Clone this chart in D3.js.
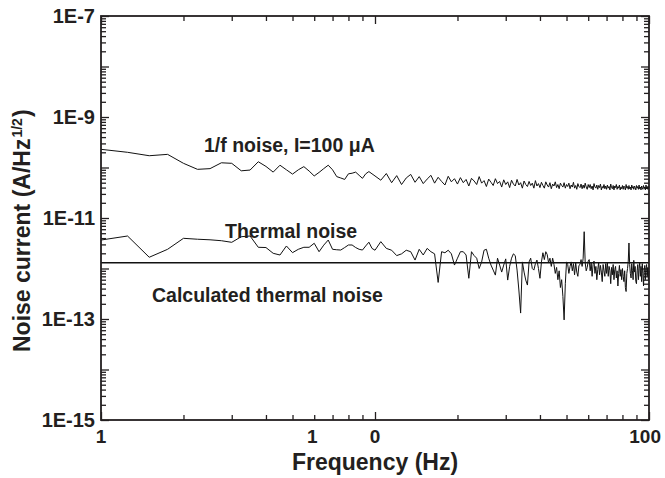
<!DOCTYPE html>
<html>
<head>
<meta charset="utf-8">
<script src="https://cdn.jsdelivr.net/npm/d3@7"></script>
<style>
  body { margin: 0; background: #fff; }
  text { font-family: "Liberation Sans", Arial, sans-serif; font-weight: bold; fill: #231f20; }
</style>
</head>
<body>
<svg id="svg1" width="665" height="478"></svg>
<script>
// frequency grid (Hz)
const freqLow = [1, 1.25, 1.5, 1.75, 2, 2.25, 2.5, 2.75, 3, 3.25, 3.5, 3.75, 4, 4.25, 4.5, 4.75,
  5, 5.25, 5.5, 5.75, 6, 6.25, 6.5, 6.75, 7, 7.25, 7.5, 7.75, 8, 8.25, 8.5, 8.75, 9, 9.25, 9.5, 9.75, 10];
const freqHigh = d3.range(10.5, 100.001, 0.5);

// 1/f noise, I=100 uA  (A/Hz^1/2)
const oneOverFLow = [2.29e-10, 2.0e-10, 1.71e-10, 1.82e-10, 1.21e-10, 9.2e-11, 9.5e-11, 1.24e-10, 1.21e-10,
  8.6e-11, 8.9e-11, 1.30e-10, 1.05e-10, 8.1e-11, 1.11e-10, 9.0e-11, 7.4e-11, 9.0e-11, 1.04e-10, 8.5e-11,
  6.8e-11, 8.0e-11, 9.5e-11, 1.11e-10, 9.0e-11, 6.6e-11, 6.2e-11, 5.8e-11, 7.5e-11, 7.7e-11, 8.1e-11,
  7.0e-11, 6.1e-11, 7.5e-11, 8.3e-11, 7.5e-11, 6.8e-11];
// 10.5 .. 100 Hz, in units of 1e-11
const oneOverFHigh = [
  5.6, 7.6, 5.0, 6.9, 4.6, 6.2, 7.3, 5.1, 6.6, 4.8, 5.9, 7.0, 4.9, 6.4, 5.3, 4.5, 6.7, 5.2, 6.0, 4.7,
  6.3, 5.0, 5.8, 4.3, 6.1, 5.4, 4.6, 6.6, 4.9, 5.5, 4.2, 5.9, 5.1, 4.4, 6.0, 4.8, 5.3, 4.1, 5.7, 4.6,
  5.2, 4.0, 5.6, 4.7, 4.3, 5.8, 4.5, 5.0, 3.9, 5.4, 4.6, 4.2, 5.3, 4.4, 4.9, 3.9, 5.5, 4.3, 4.8, 4.0,
  5.1, 4.4, 3.9, 5.2, 4.5, 4.1, 5.0, 3.8, 4.7, 4.3, 5.2, 4.0, 4.6, 3.8, 4.9, 4.4, 4.1, 5.0, 3.9, 4.6,
  4.2, 4.9, 3.8, 4.5, 4.1, 5.1, 3.9, 4.4, 3.7, 4.8, 4.2, 4.0, 4.7, 3.8, 4.5, 3.9, 4.9, 4.1, 3.7, 4.6,
  4.0, 4.6, 3.8, 4.3, 3.6, 4.8, 4.1, 3.9, 4.5, 3.7, 4.4, 4.0, 4.7, 3.6, 4.2, 3.9, 4.6, 3.8, 4.3, 3.7,
  4.5, 3.9, 4.2, 3.6, 4.7, 4.0, 3.8, 4.4, 3.6, 4.3, 4.0, 4.6, 3.7, 4.2, 3.9, 4.5, 3.6, 4.1, 3.8, 4.4,
  3.7, 4.3, 4.0, 3.6, 4.6, 3.9, 4.2, 3.7, 4.4, 3.8, 4.1, 3.6, 4.5, 3.9, 4.2, 3.7, 4.3, 4.0, 3.6, 4.4,
  3.9, 4.2, 3.7, 4.5, 3.8, 4.1, 3.6, 4.3, 4.0, 3.7, 4.4, 3.9, 4.1, 3.6, 4.5, 3.8, 4.2, 3.7, 4.3, 4.0
].map(v => v * 1e-11);

// measured thermal noise
const thermalLow = [3.66e-12, 4.40e-12, 1.67e-12, 2.40e-12, 3.96e-12, 3.8e-12, 3.7e-12, 3.55e-12, 3.30e-12,
  4.26e-12, 4.40e-12, 2.63e-12, 2.60e-12, 2.0e-12, 1.85e-12, 2.79e-12, 2.06e-12, 2.4e-12, 2.63e-12, 2.63e-12,
  3.16e-12, 2.15e-12, 2.9e-12, 3.66e-12, 2.40e-12, 2.35e-12, 2.32e-12, 2.6e-12, 2.92e-12, 2.92e-12, 2.6e-12,
  2.4e-12, 2.32e-12, 2.8e-12, 3.32e-12, 2.5e-12, 2.3e-12];
// 10.5 .. 100 Hz, in units of 1e-12
const thermalHigh = [
  3.4, 2.5, 2.3, 1.8, 1.95, 2.3, 2.15, 1.47, 2.4, 1.85, 2.5, 2.15, 1.95, 0.53, 2.15, 2.05, 2.3, 1.95, 1.17, 1.6,
  2.15, 2.15, 1.85, 0.64, 2.15, 1.8, 1.6, 1.0, 1.35, 2.3, 2.4, 1.6, 1.17, 0.93, 0.74, 1.6, 1.17, 0.85, 1.17, 1.55,
  0.59, 1.1, 1.6, 1.95, 1.8, 0.93, 0.375, 0.131, 1.35, 0.85, 0.59, 0.47, 1.35, 1.6, 1.0, 0.93, 1.25, 1.47, 1.0, 0.64,
  1.35, 2.05, 1.5, 2.15, 1.9, 1.3, 1.6, 1.1, 1.6, 1.2, 0.8, 1.05, 0.6, 0.9, 0.42, 0.6, 0.28, 0.096, 0.5, 1.35,
  1.2, 0.8, 1.1, 1.35, 0.9, 1.25, 0.75, 1.3, 0.85, 0.7, 1.15, 1.2, 1.5, 1.1, 1.6, 5.35, 1.3, 0.9, 1.05, 1.4,
  1.5, 0.9, 1.3, 0.7, 1.2, 1.4, 0.8, 1.1, 0.6, 0.95, 1.3, 0.75, 1.15, 0.85, 0.55, 1.2, 0.9, 0.7, 1.25, 0.8,
  1.3, 0.7, 1.1, 0.9, 0.5, 1.05, 0.75, 1.2, 0.6, 0.95, 1.1, 0.65, 0.9, 0.45, 0.8, 1.15, 0.7, 0.95, 0.6, 1.0,
  0.7, 0.55, 0.9, 0.42, 0.35, 0.8, 1.0, 1.4, 3.2, 1.2, 0.8, 0.65, 1.25, 0.9, 0.6, 1.45, 0.85, 1.1, 0.55, 0.5,
  0.9, 1.2, 0.6, 1.0, 1.3, 0.7, 1.1, 0.55, 1.25, 0.8, 0.45, 0.95, 1.15, 0.6, 1.0, 1.2, 0.7, 1.05, 0.6, 0.9
].map(v => v * 1e-12);

// calculated thermal noise level
const calcThermal = 1.3e-12;

const yTickValues = [1e-7, 1e-9, 1e-11, 1e-13, 1e-15];
const yTickLabels = ['1E-7', '1E-9', '1E-11', '1E-13', '1E-15'];
const xTickValues = [1, 5.9, 10, 100];
const xTickLabels = ['1', '1', '0', '100'];

const svg1 = d3.select('#svg1');
const margin = { top: 16, right: 16, bottom: 58, left: 101 };
const width = +svg1.attr('width');
const height = +svg1.attr('height');
const innerWidth = width - margin.left - margin.right;
const innerHeight = height - margin.top - margin.bottom;
const ink = '#231f20';

const xScale = d3.scaleLog().domain([1, 100]).range([0, innerWidth]);
const yScale = d3.scaleLog().domain([1e-15, 1e-7]).range([innerHeight, 0]);

const g = svg1.append('g')
  .attr('transform', `translate(${margin.left},${margin.top})`);

// tick marks on all four sides, pointing inward
const xMajor = [1, 10, 100];
const xMinor = xScale.ticks().filter(d => !xMajor.includes(d));
const yMajor = d3.range(-15, -6).map(e => Math.pow(10, e));
const yMinor = yScale.ticks().filter(d => !yMajor.some(m => Math.abs(m - d) / d < 1e-6));

const tickAxis = (axisFn, scale, values, size, transform) => {
  const a = g.append('g')
    .attr('transform', transform)
    .call(axisFn(scale).tickValues(values).tickSize(-size).tickSizeOuter(0).tickFormat(''));
  a.select('.domain').remove();
  a.selectAll('line').attr('stroke', ink).attr('stroke-width', 1.3);
};

tickAxis(d3.axisBottom, xScale, xMajor, 8, `translate(0,${innerHeight})`);
tickAxis(d3.axisBottom, xScale, xMinor, 5, `translate(0,${innerHeight})`);
tickAxis(d3.axisTop, xScale, xMajor, 8, 'translate(0,0)');
tickAxis(d3.axisTop, xScale, xMinor, 5, 'translate(0,0)');
tickAxis(d3.axisLeft, yScale, yMajor, 8, 'translate(0,0)');
tickAxis(d3.axisLeft, yScale, yMinor, 5, 'translate(0,0)');
tickAxis(d3.axisRight, yScale, yMajor, 8, `translate(${innerWidth},0)`);
tickAxis(d3.axisRight, yScale, yMinor, 5, `translate(${innerWidth},0)`);

// tick labels
g.selectAll('.ylab').data(yTickValues).enter().append('text')
  .attr('class', 'ylab')
  .attr('x', -6)
  .attr('y', d => yScale(d))
  .attr('dy', '0.36em')
  .attr('text-anchor', 'end')
  .attr('font-size', 20)
  .text((d, i) => yTickLabels[i]);

g.selectAll('.xlab').data(xTickValues).enter().append('text')
  .attr('class', 'xlab')
  .attr('x', d => xScale(d))
  .attr('y', innerHeight + 23)
  .attr('text-anchor', (d, i) => i === xTickValues.length - 1 ? 'end' : 'middle')
  .attr('dx', (d, i) => i === xTickValues.length - 1 ? 12 : 0)
  .attr('font-size', 19)
  .text((d, i) => xTickLabels[i]);

// data lines
const toPoints = (fs, vs) => fs.map((f, i) => ({ f: f, v: vs[i] }));
const oneOverF = toPoints(freqLow, oneOverFLow).concat(toPoints(freqHigh, oneOverFHigh));
const thermal = toPoints(freqLow, thermalLow).concat(toPoints(freqHigh, thermalHigh));

const lineGenerator = d3.line()
  .x(d => xScale(d.f))
  .y(d => yScale(d.v));

g.append('path')
  .attr('d', lineGenerator(oneOverF))
  .attr('fill', 'none')
  .attr('stroke', '#111')
  .attr('stroke-width', 1);

g.append('path')
  .attr('d', lineGenerator(thermal))
  .attr('fill', 'none')
  .attr('stroke', '#111')
  .attr('stroke-width', 1);

g.append('path')
  .attr('d', lineGenerator([{ f: 1, v: calcThermal }, { f: 100, v: calcThermal }]))
  .attr('fill', 'none')
  .attr('stroke', '#111')
  .attr('stroke-width', 1.3);

// frame
g.append('rect')
  .attr('width', innerWidth)
  .attr('height', innerHeight)
  .attr('fill', 'none')
  .attr('stroke', ink)
  .attr('stroke-width', 1.8);

// annotations
g.append('text').attr('x', 103).attr('y', 136).attr('font-size', 19.5).text('1/f noise, I=100 \u03bcA');
g.append('text').attr('x', 124).attr('y', 222).attr('font-size', 19.5).text('Thermal noise');
g.append('text').attr('x', 51).attr('y', 286).attr('font-size', 19.5).text('Calculated thermal noise');

// axis titles
g.append('text')
  .attr('x', innerWidth / 2)
  .attr('y', innerHeight + 50)
  .attr('text-anchor', 'middle')
  .attr('font-size', 23)
  .text('Frequency (Hz)');

// y title: separate pieces so the superscript sits right
const yBase = 30, yStart = 352;
const yMain = svg1.append('text')
  .attr('transform', `translate(${yBase},${yStart}) rotate(-90)`)
  .attr('font-size', 23)
  .text('Noise current (A/Hz');
const mainLen = yMain.node().getComputedTextLength();
const ySup = svg1.append('text')
  .attr('transform', `translate(${yBase - 8},${yStart - mainLen - 1}) rotate(-90)`)
  .attr('font-size', 14)
  .text('1/2');
const supLen = ySup.node().getComputedTextLength();
svg1.append('text')
  .attr('transform', `translate(${yBase},${yStart - mainLen - supLen - 2}) rotate(-90)`)
  .attr('font-size', 23)
  .text(')');
</script>
</body>
</html>
